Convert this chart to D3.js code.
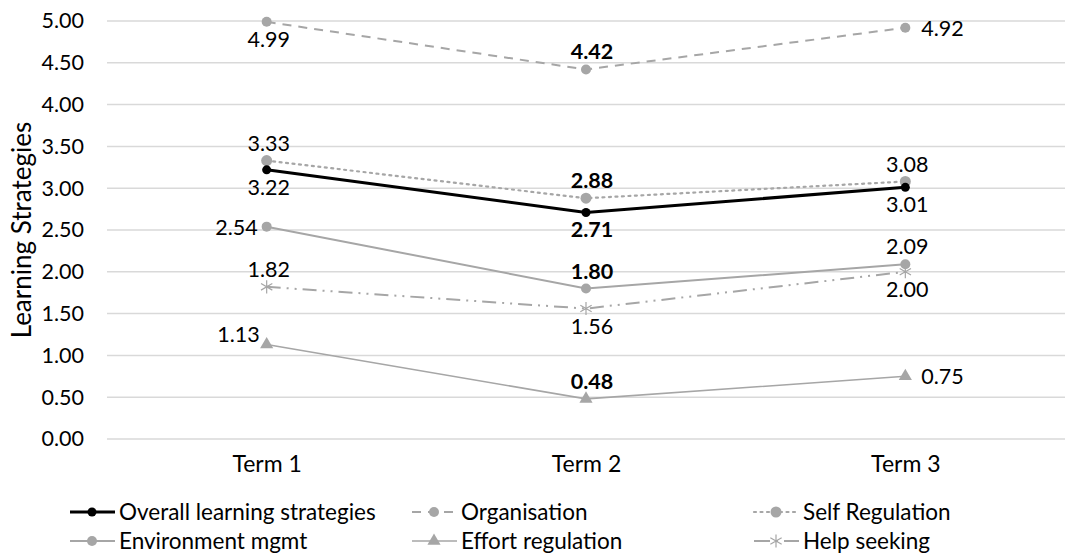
<!DOCTYPE html>
<html>
<head>
<meta charset="utf-8">
<script src="https://cdn.jsdelivr.net/npm/d3@7"></script>
<style>
  body { margin: 0; background: #fff; }
  text { font-family: Lato, "Open Sans", sans-serif; fill: #000; }
</style>
</head>
<body>
<div class="canvas"></div>
<script>
const terms = ['Term 1', 'Term 2', 'Term 3'];
const yTicks = [0, 0.5, 1, 1.5, 2, 2.5, 3, 3.5, 4, 4.5, 5];

const seriesNames = ['Overall learning strategies', 'Organisation', 'Self Regulation',
  'Environment mgmt', 'Effort regulation', 'Help seeking'];

const overall = [3.22, 2.71, 3.01];
const organisation = [4.99, 4.42, 4.92];
const selfRegulation = [3.33, 2.88, 3.08];
const environment = [2.54, 1.80, 2.09];
const effort = [1.13, 0.48, 0.75];
const helpSeeking = [1.82, 1.56, 2.00];

const dims = { width: 1068, height: 555 };
const margin = { left: 107, right: 3, top: 21, bottom: 116 };

// styling per series (same order as seriesNames)
const styles = [
  { color: '#000', width: 3, dash: null, symbol: 'circle', r: 4.5 },
  { color: '#a6a6a6', width: 2, dash: '9,7', symbol: 'circle', r: 5 },
  { color: '#a6a6a6', width: 2.2, dash: '2,4.5', symbol: 'circle', r: 5.5 },
  { color: '#a6a6a6', width: 2, dash: null, symbol: 'circle', r: 5 },
  { color: '#a6a6a6', width: 1.6, dash: null, symbol: 'triangle', r: 5 },
  { color: '#a6a6a6', width: 2, dash: '14,6,2,6,2,6', symbol: 'asterisk', r: 6 }
];
// where each value label sits relative to its point
const labelPlace = [
  ['below', 'below', 'below'],
  ['below', 'above', 'right'],
  ['above', 'above', 'above'],
  ['left', 'above', 'above'],
  ['upleft', 'above', 'right'],
  ['above', 'below', 'below']
];
const labelBold = [
  [false, true, false],
  [false, true, false],
  [false, true, false],
  [false, true, false],
  [false, true, false],
  [false, false, false]
];

const values = [overall, organisation, selfRegulation, environment, effort, helpSeeking];

const svg = d3.select('.canvas').append('svg')
  .attr('width', dims.width)
  .attr('height', dims.height);

const x = d3.scalePoint()
  .domain(terms)
  .range([margin.left, dims.width - margin.right])
  .padding(0.5);

const y = d3.scaleLinear()
  .domain([0, 5])
  .range([dims.height - margin.bottom, margin.top]);

// gridlines
svg.append('g')
  .selectAll('line')
  .data(yTicks)
  .enter().append('line')
  .attr('x1', margin.left)
  .attr('x2', dims.width - margin.right)
  .attr('y1', d => y(d))
  .attr('y2', d => y(d))
  .attr('stroke', '#d9d9d9')
  .attr('stroke-width', 1.5);

// y axis labels
const yAxis = svg.append('g')
  .attr('transform', `translate(84,0)`)
  .call(d3.axisLeft(y).tickValues(yTicks).tickFormat(d3.format('.2f')).tickSize(0).tickPadding(0));
yAxis.select('.domain').remove();
yAxis.selectAll('text')
  .style('font-family', 'Lato, "Open Sans", sans-serif')
  .style('font-size', '21.5px')
  .attr('fill', '#000');

// x axis labels
const xAxis = svg.append('g')
  .attr('transform', `translate(0,${y(0) + 17})`)
  .call(d3.axisBottom(x).tickSize(0).tickPadding(0));
xAxis.select('.domain').remove();
xAxis.selectAll('text')
  .style('font-family', 'Lato, "Open Sans", sans-serif')
  .style('font-size', '23px')
  .attr('fill', '#000');

svg.append('text')
  .attr('transform', `translate(31,${(y(0) + y(5)) / 2}) rotate(-90)`)
  .attr('text-anchor', 'middle')
  .style('font-size', '26px')
  .text('Learning Strategies');

const drawMarker = (g, st, cx, cy) => {
  if (st.symbol === 'circle') {
    g.append('circle').attr('cx', cx).attr('cy', cy).attr('r', st.r).attr('fill', st.color);
  } else if (st.symbol === 'triangle') {
    g.append('path')
      .attr('d', d3.symbol().type(d3.symbolTriangle).size(75)())
      .attr('transform', `translate(${cx},${cy})`)
      .attr('fill', st.color);
  } else {
    g.append('path')
      .attr('d', d3.symbol().type(d3.symbolAsterisk).size(120)())
      .attr('transform', `translate(${cx},${cy})`)
      .attr('fill', 'none')
      .attr('stroke', st.color)
      .attr('stroke-width', 1.2);
  }
};

const line = d3.line()
  .x((d, i) => x(terms[i]))
  .y(d => y(d));

// draw series back to front so overall sits on top
const order = [5, 4, 3, 1, 2, 0];
order.forEach(si => {
  const st = styles[si];
  const g = svg.append('g');
  g.append('path')
    .datum(values[si])
    .attr('d', line)
    .attr('fill', 'none')
    .attr('stroke', st.color)
    .attr('stroke-width', st.width)
    .attr('stroke-dasharray', st.dash)
    .attr('stroke-linecap', si === 2 ? 'round' : 'butt');
  values[si].forEach((v, i) => drawMarker(g, st, x(terms[i]), y(v)));
});

// value labels
values.forEach((vals, si) => {
  vals.forEach((v, i) => {
    const px = x(terms[i]), py = y(v);
    const place = labelPlace[si][i];
    let tx = px + (i === 1 ? 6 : 2), ty = py, anchor = 'middle';
    if (place === 'above') ty = py - 10;
    if (place === 'below') ty = py + 25;
    if (place === 'left') { tx = px - 9; ty = py + 8; anchor = 'end'; }
    if (place === 'right') { tx = px + 16; ty = py + 8; anchor = 'start'; }
    if (place === 'upleft') { tx = px - 7; ty = py - 3; anchor = 'end'; }
    svg.append('text')
      .attr('x', tx)
      .attr('y', ty)
      .attr('text-anchor', anchor)
      .style('font-size', '21.5px')
      .style('font-weight', labelBold[si][i] ? 'bold' : 'normal')
      .text(d3.format('.2f')(v));
  });
});

// legend
const legendCols = [70, 412, 754];
const legendRows = [512, 541];
seriesNames.forEach((name, si) => {
  const lx = legendCols[si % 3], ly = legendRows[Math.floor(si / 3)];
  const st = styles[si];
  const g = svg.append('g');
  g.append('line')
    .attr('x1', lx).attr('x2', lx + 45)
    .attr('y1', ly).attr('y2', ly)
    .attr('stroke', st.color)
    .attr('stroke-width', st.width)
    .attr('stroke-dasharray', st.dash === '14,6,2,6,2,6' ? '16,6,2,6' : st.dash)
    .attr('stroke-linecap', si === 2 ? 'round' : 'butt');
  drawMarker(g, st, lx + 22, ly);
  g.append('text')
    .attr('x', lx + 49)
    .attr('y', ly + 8)
    .style('font-size', '22.5px')
    .text(name);
});
</script>
</body>
</html>
